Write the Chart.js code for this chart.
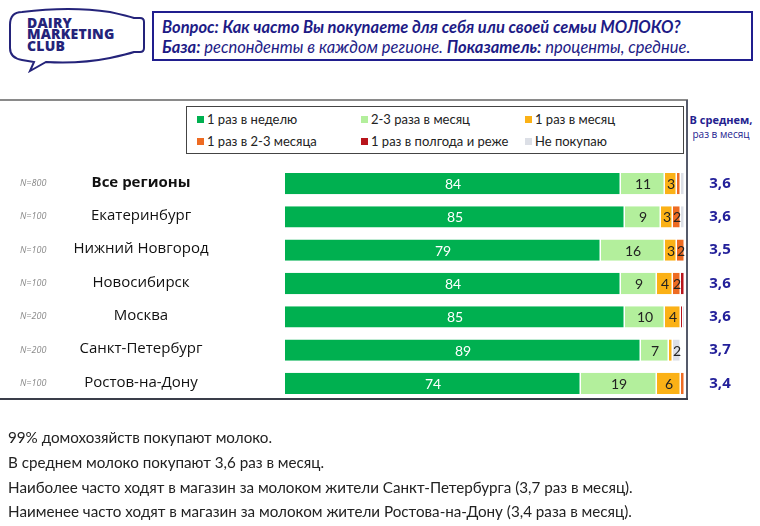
<!DOCTYPE html>
<html>
<head>
<meta charset="utf-8">
<script src="https://cdn.jsdelivr.net/npm/chart.js@4.4.0/dist/chart.umd.min.js"></script>
<style>
body { margin: 0; width: 760px; height: 526px; position: relative; background: #fff; overflow: hidden; font-family: Lato, "Open Sans", sans-serif; }
.abs { position: absolute; }
#chartWrap { position: absolute; left: 0; top: 0; width: 760px; height: 526px; }
.logo { color: #24237a; font-family: "Open Sans", sans-serif; font-weight: 800; font-size: 14px; line-height: 11.3px; letter-spacing: 0.2px; left: 27px; top: 17px; }
.qbox { left: 152px; top: 11px; width: 597px; height: 46px; border: 2.5px solid #201e8e; color: #1d1b86; font-size: 16.5px; font-style: italic; }
.qbox div { position: absolute; left: 8px; white-space: nowrap; }
.legend { left: 186px; top: 106px; width: 496px; height: 46px; border: 1px solid #444; }
.leg { position: absolute; font-size: 13px; color: #222; white-space: nowrap; }
.leg i { position: absolute; left: -10px; top: 5px; width: 7px; height: 7px; }
.note { left: 8px; font-size: 15.2px; color: #222; white-space: nowrap; }
</style>
</head>
<body>
<svg class="abs" style="left:0;top:0" width="150" height="76">
  <path d="M 22 12 Q 10 12 10 25 L 10 48 Q 10 58 22 60 L 34 62 L 30 71 L 46 62 Q 80 64 110 58 Q 128 54 134 52 L 140 52 Q 144 52 144 48 L 144 22 Q 144 18 140 18 L 134 18 Q 128 16 110 12 Q 70 6 22 12 Z" fill="none" stroke="#24237a" stroke-width="2"/>
</svg>
<div class="abs logo">DAIRY<br>MARKETING<br>CLUB</div>

<div class="abs qbox">
  <div style="top:4px;font-weight:bold">Вопрос: Как часто Вы покупаете для себя или своей семьи МОЛОКО?</div>
  <div style="top:24px"><b>База:</b> респонденты в каждом регионе. <b>Показатель:</b> проценты, средние.</div>
</div>

<div class="abs" style="left:0;top:99px;width:688px;height:2px;background:#8a8a8a"></div>
<div class="abs" style="left:686px;top:100px;width:1.5px;height:299px;background:#555a6a"></div>
<div class="abs" style="left:0;top:398px;width:688px;height:2px;background:#3a3d4a"></div>

<div class="abs legend" id="legend"></div>

<div class="abs" style="left:688px;top:112px;width:66px;text-align:center;color:#24218f;font-weight:bold;font-size:11px;font-family:'Open Sans',sans-serif">В среднем,</div>
<div class="abs" style="left:688px;top:127px;width:66px;text-align:center;color:#24218f;font-size:10px;font-family:'Open Sans',sans-serif">раз в месяц</div>

<div id="chartWrap"><canvas id="chart" width="760" height="526"></canvas></div>

<div class="abs note" style="top:428px">99% домохозяйств покупают молоко.</div>
<div class="abs note" style="top:453px">В среднем молоко покупают 3,6 раз в месяц.</div>
<div class="abs note" style="top:478px">Наиболее часто ходят в магазин за молоком жители Санкт-Петербурга (3,7 раз в месяц).</div>
<div class="abs note" style="top:502px">Наименее часто ходят в магазин за молоком жители Ростова-на-Дону (3,4 раза в месяц).</div>

<script>
// data
const regions = ["Все регионы", "Екатеринбург", "Нижний Новгород", "Новосибирск", "Москва", "Санкт-Петербург", "Ростов-на-Дону"];
const sampleSizes = ["N=800", "N=100", "N=100", "N=100", "N=200", "N=200", "N=100"];
const averages = ["3,6", "3,6", "3,5", "3,6", "3,6", "3,7", "3,4"];

const seriesNames = ["1 раз в неделю", "2-3 раза в месяц", "1 раз в месяц", "1 раз в 2-3 месяца", "1 раз в полгода и реже", "Не покупаю"];
const onceWeek = [84, 85, 79, 84, 85, 89, 74];
const twoThreeMonth = [11, 9, 16, 9, 10, 7, 19];
const onceMonth = [3, 3, 3, 4, 4, 1, 6];
const twoThreeMonths = [1, 2, 2, 2, 0, 0, 1];
const halfYear = [0, 0, 0, 1, 0.5, 0, 0];
const notBuying = [1, 1, 0, 0, 0.5, 2, 0];
const seriesData = [onceWeek, twoThreeMonth, onceMonth, twoThreeMonths, halfYear, notBuying];
const seriesColors = ["#00b050", "#b3ef9c", "#fbb116", "#ee6b22", "#b8141b", "#dcdfe6"];

// legend
const legendEl = document.getElementById("legend");
const legX = [20, 184, 348], legY = [4, 26];
seriesNames.forEach((name, i) => {
	const d = document.createElement("div");
	d.className = "leg";
	d.style.left = legX[i % 3] + "px";
	d.style.top = legY[Math.floor(i / 3)] + "px";
	d.innerHTML = `<i style="background:${seriesColors[i]}"></i>${name}`;
	legendEl.appendChild(d);
});

// text on bars and row labels
const rowText = {
	id: "rowText",
	afterDatasetsDraw(chart) {
		const c = chart.ctx;
		const yScale = chart.scales.y;
		c.save();
		c.textAlign = "center";
		c.textBaseline = "middle";
		c.font = "14px Lato, sans-serif";
		chart.data.datasets.forEach((ds, di) => {
			chart.getDatasetMeta(di).data.forEach((bar, i) => {
				const v = ds.data[i];
				if (v < 2) return;
				c.fillStyle = di === 0 ? "#ffffff" : "#222222";
				c.fillText(v, (bar.x + bar.base) / 2, bar.y + 1);
			});
		});
		regions.forEach((r, i) => {
			const py = yScale.getPixelForValue(i);
			c.textAlign = "left";
			c.fillStyle = "#8a8a8a";
			c.font = "italic 9px 'Open Sans', sans-serif";
			c.fillText(sampleSizes[i], 20, py);
			c.textAlign = "center";
			c.fillStyle = "#111111";
			c.font = (i === 0 ? "bold " : "") + "15px 'Open Sans', sans-serif";
			c.fillText(r, 141, py - 1);
			c.fillStyle = "#23209a";
			c.font = "bold 15px 'Open Sans', sans-serif";
			c.fillText(averages[i], 720, py);
		});
		c.restore();
	}
};

const ctx = document.getElementById("chart").getContext("2d");
new Chart(ctx, {
	type: "bar",
	data: {
		labels: regions,
		datasets: seriesData.map((d, i) => ({
			label: seriesNames[i],
			data: d,
			backgroundColor: seriesColors[i],
			borderColor: "#ffffff",
			borderWidth: { left: 0, top: 0, bottom: 0, right: 1.5 },
			borderSkipped: false,
			barPercentage: 0.64,
			categoryPercentage: 1
		}))
	},
	options: {
		indexAxis: "y",
		responsive: false,
		animation: false,
		layout: { padding: { left: 285, right: 75, top: 167, bottom: 126 } },
		scales: {
			x: { stacked: true, min: 0, max: 100, display: false },
			y: { stacked: true, display: false }
		},
		plugins: {
			legend: { display: false },
			tooltip: { enabled: false }
		}
	},
	plugins: [rowText]
});
</script>
</body>
</html>
